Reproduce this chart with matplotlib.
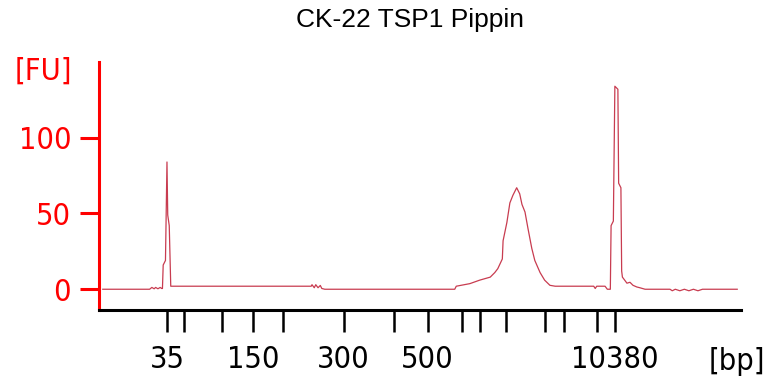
import matplotlib.pyplot as plt
from matplotlib import font_manager

# migration time (s) and fluorescence (FU)
time_s = [40.5, 46.7, 47.0, 47.3, 47.5, 47.8, 48.1, 48.3, 48.4, 48.5, 48.8, 49.0,
          49.1, 49.3, 49.5, 68.1, 68.2, 68.5, 68.7, 69.0, 69.3, 69.5, 69.9,
          87.1, 87.3, 89.1, 90.4, 91.8, 92.4, 92.8, 93.4, 93.5, 94.0, 94.4,
          94.8, 95.3, 95.7, 96.0, 96.4, 96.8, 97.3, 97.7, 98.4, 99.0, 99.7,
          100.4, 105.5, 105.7, 105.9, 107.0, 107.3, 107.7, 107.8, 108.1, 108.3,
          108.7, 108.8, 109.1, 109.2, 109.3, 109.9, 110.3, 110.7, 111.2, 111.6,
          112.3, 115.6, 115.9, 116.3, 116.9, 117.5, 118.1, 118.7, 119.3, 119.9,
          124.5]
fu = [0, 0, 1.2, 0.3, 1.2, 0.3, 1.2, 0.5, 0.5, 16, 19, 84,
      49, 42, 2, 2, 3, 1, 3, 1, 2.5, 0.5, 0,
      0, 2, 3.7, 6, 8, 11, 13.6, 20, 32, 44, 57,
      62, 67, 63, 56, 51, 40, 27, 19, 11, 6, 2.6,
      2, 2, 0.5, 2, 2, 0, 0, 42, 45, 134,
      132, 70, 67, 12, 8, 4, 4.6, 2.6, 1.5, 1,
      0, 0, -1, 0, -1, 0, -1, 0, -1, 0,
      0]

# ladder peaks (s) and their sizes (bp)
ladder_s = [49.0, 51.2, 56.3, 60.4, 64.3, 72.4, 79.1, 83.5, 88.1, 90.5,
            93.9, 99.1, 101.6, 105.9, 108.3]
ladder_bp = [35, 50, 100, 150, 200, 300, 400, 500, 600, 700,
             1000, 2000, 3000, 7000, 10380]
shown_bp = [35, 150, 300, 500, 10380]

# condensed face if one is installed, otherwise plain DejaVu Sans
names = {f.name for f in font_manager.fontManager.ttflist}
condensed = [f for f in font_manager.fontManager.ttflist
             if f.name == "DejaVu Sans" and f.stretch == "condensed"]
if "Liberation Sans Narrow" in names:
    lab_font = dict(family="Liberation Sans Narrow", size=23)
elif condensed:
    lab_font = dict(family="DejaVu Sans", stretch="condensed", size=22)
else:
    lab_font = dict(family="DejaVu Sans", size=19)

fig = plt.figure(figsize=(7.69, 3.81), dpi=100)
ax = fig.add_axes([99 / 769, 1 - 310 / 381, 642 / 769, 248 / 381])

ax.plot(time_s, fu, color="#c83c50", linewidth=0.9)
ax.set_xlim(40, 125)
ax.set_ylim(-13.7, 150)

ax.spines["top"].set_visible(False)
ax.spines["right"].set_visible(False)
ax.spines["left"].set_color("red")
ax.spines["left"].set_linewidth(2.2)
ax.spines["bottom"].set_color("black")
ax.spines["bottom"].set_linewidth(2.2)

ax.set_yticks([0, 50, 100])
ax.tick_params(axis="y", colors="red", length=14, width=2.2, pad=6)
ax.set_xticks(ladder_s)
ax.set_xticklabels([str(b) if b in shown_bp else "" for b in ladder_bp])
ax.tick_params(axis="x", colors="black", length=16, width=1.8, pad=9)
for lab in ax.get_xticklabels() + ax.get_yticklabels():
    lab.set_fontproperties(font_manager.FontProperties(**lab_font))

fig.text(410 / 769, 1 - 27 / 381, "CK-22 TSP1 Pippin", ha="center",
         va="baseline", fontsize=19, family=["Liberation Sans", "DejaVu Sans"])
fig.text(43 / 769, 1 - 80 / 381, "[FU]", ha="center", va="baseline",
         color="red", fontproperties=font_manager.FontProperties(**lab_font))
fig.text(765 / 769, 1 - 370 / 381, "[bp]", ha="right", va="baseline",
         color="black", fontproperties=font_manager.FontProperties(**lab_font))

fig.savefig("out.png", dpi=100)
